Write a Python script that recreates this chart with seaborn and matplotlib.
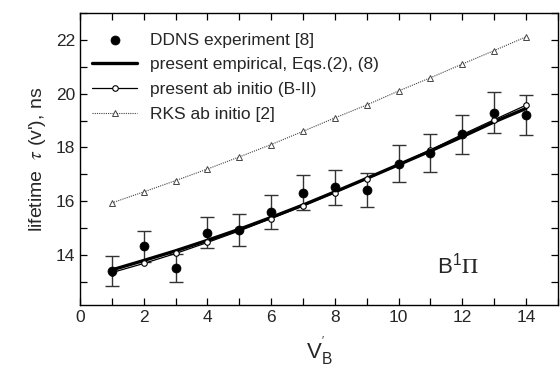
import numpy as np
import pandas as pd
import matplotlib
matplotlib.use("Agg")
import matplotlib.pyplot as plt
from matplotlib.ticker import MultipleLocator
import seaborn as sns

v = [1, 2, 3, 4, 5, 6, 7, 8, 9, 10, 11, 12, 13, 14]
ddns = [13.41, 14.32, 13.52, 14.83, 14.92, 15.60, 16.31, 16.53, 16.41, 17.40, 17.80, 18.49, 19.30, 19.20]
ddns_err = [0.55, 0.56, 0.53, 0.57, 0.60, 0.63, 0.65, 0.65, 0.64, 0.69, 0.70, 0.72, 0.76, 0.75]
empirical = [13.45, 13.80, 14.16, 14.55, 14.96, 15.40, 15.86, 16.35, 16.85, 17.36, 17.87, 18.40, 18.95, 19.45]
abinitio = [13.35, 13.69, 14.06, 14.47, 14.90, 15.36, 15.83, 16.32, 16.84, 17.37, 17.91, 18.48, 19.03, 19.57]
rks = [15.94, 16.35, 16.77, 17.20, 17.65, 18.11, 18.60, 19.10, 19.58, 20.10, 20.59, 21.10, 21.60, 22.11]

labels = ["DDNS experiment [8]", "present empirical, Eqs.(2), (8)",
          "present ab initio (B-II)", "RKS ab initio [2]"]

sns.set_style("ticks")
plt.rcParams['font.family'] = ['Liberation Sans', 'DejaVu Sans']
plt.rcParams['mathtext.fontset'] = 'stix'

df = pd.DataFrame({"v": v, "ddns": ddns, "err": ddns_err, "emp": empirical,
                   "abi": abinitio, "rks": rks})

fig = plt.figure(figsize=(5.6, 3.7), dpi=100)
ax = fig.add_axes([0.143, 0.176, 0.853, 0.789])

ax.errorbar(df["v"], df["ddns"], yerr=df["err"], fmt="none", ecolor="#333333",
            elinewidth=1.0, capsize=5, capthick=1.0, zorder=2)
sns.lineplot(data=df, x="v", y="rks", ax=ax, color="#444444", lw=0.8, linestyle=(0, (1, 1)),
             marker="^", markersize=4.5, markerfacecolor="white", markeredgecolor="#444444",
             markeredgewidth=0.7, label=labels[3], zorder=3)
sns.lineplot(data=df, x="v", y="emp", ax=ax, color="black", lw=2.4, label=labels[1], zorder=4)
sns.lineplot(data=df, x="v", y="abi", ax=ax, color="black", lw=0.9,
             marker="o", markersize=4, markerfacecolor="white", markeredgecolor="black",
             markeredgewidth=0.8, label=labels[2], zorder=5)
sns.scatterplot(data=df, x="v", y="ddns", ax=ax, color="black", s=42, edgecolor="black",
                label=labels[0], zorder=6)

handles, labs = ax.get_legend_handles_labels()
order = [labs.index(l) for l in labels]
ax.legend([handles[i] for i in order], [labs[i] for i in order], loc="upper left",
          frameon=False, fontsize=12.5, handlelength=2.6, borderaxespad=0.3,
          labelspacing=0.55, handletextpad=0.7, bbox_to_anchor=(0.0, 0.975))

ax.set_xlim(0, 15)
ax.set_ylim(12.15, 23.0)
ax.xaxis.set_major_locator(MultipleLocator(2))
ax.xaxis.set_minor_locator(MultipleLocator(1))
ax.yaxis.set_major_locator(MultipleLocator(2))
ax.yaxis.set_minor_locator(MultipleLocator(1))
ax.tick_params(which="both", direction="in", top=True, right=True, labelsize=12.5,
               color="black", width=0.9)
ax.tick_params(which="major", length=5)
ax.tick_params(which="minor", length=5)
ax.set_xticks([0, 2, 4, 6, 8, 10, 12, 14])
for s in ax.spines.values():
    s.set_color("black")
    s.set_linewidth(1.0)

ax.set_xlabel("V$_{\\mathregular{B}}^{\\mathregular{'}}$", fontsize=16, labelpad=8)
ax.set_ylabel("lifetime  $\\tau$ (v'), ns", fontsize=14, labelpad=6)
ax.text(11.2, 13.6, "B$^{\\mathregular{1}}\\Pi$", fontsize=16, ha="left", va="center")

fig.savefig("out.png", dpi=100)
